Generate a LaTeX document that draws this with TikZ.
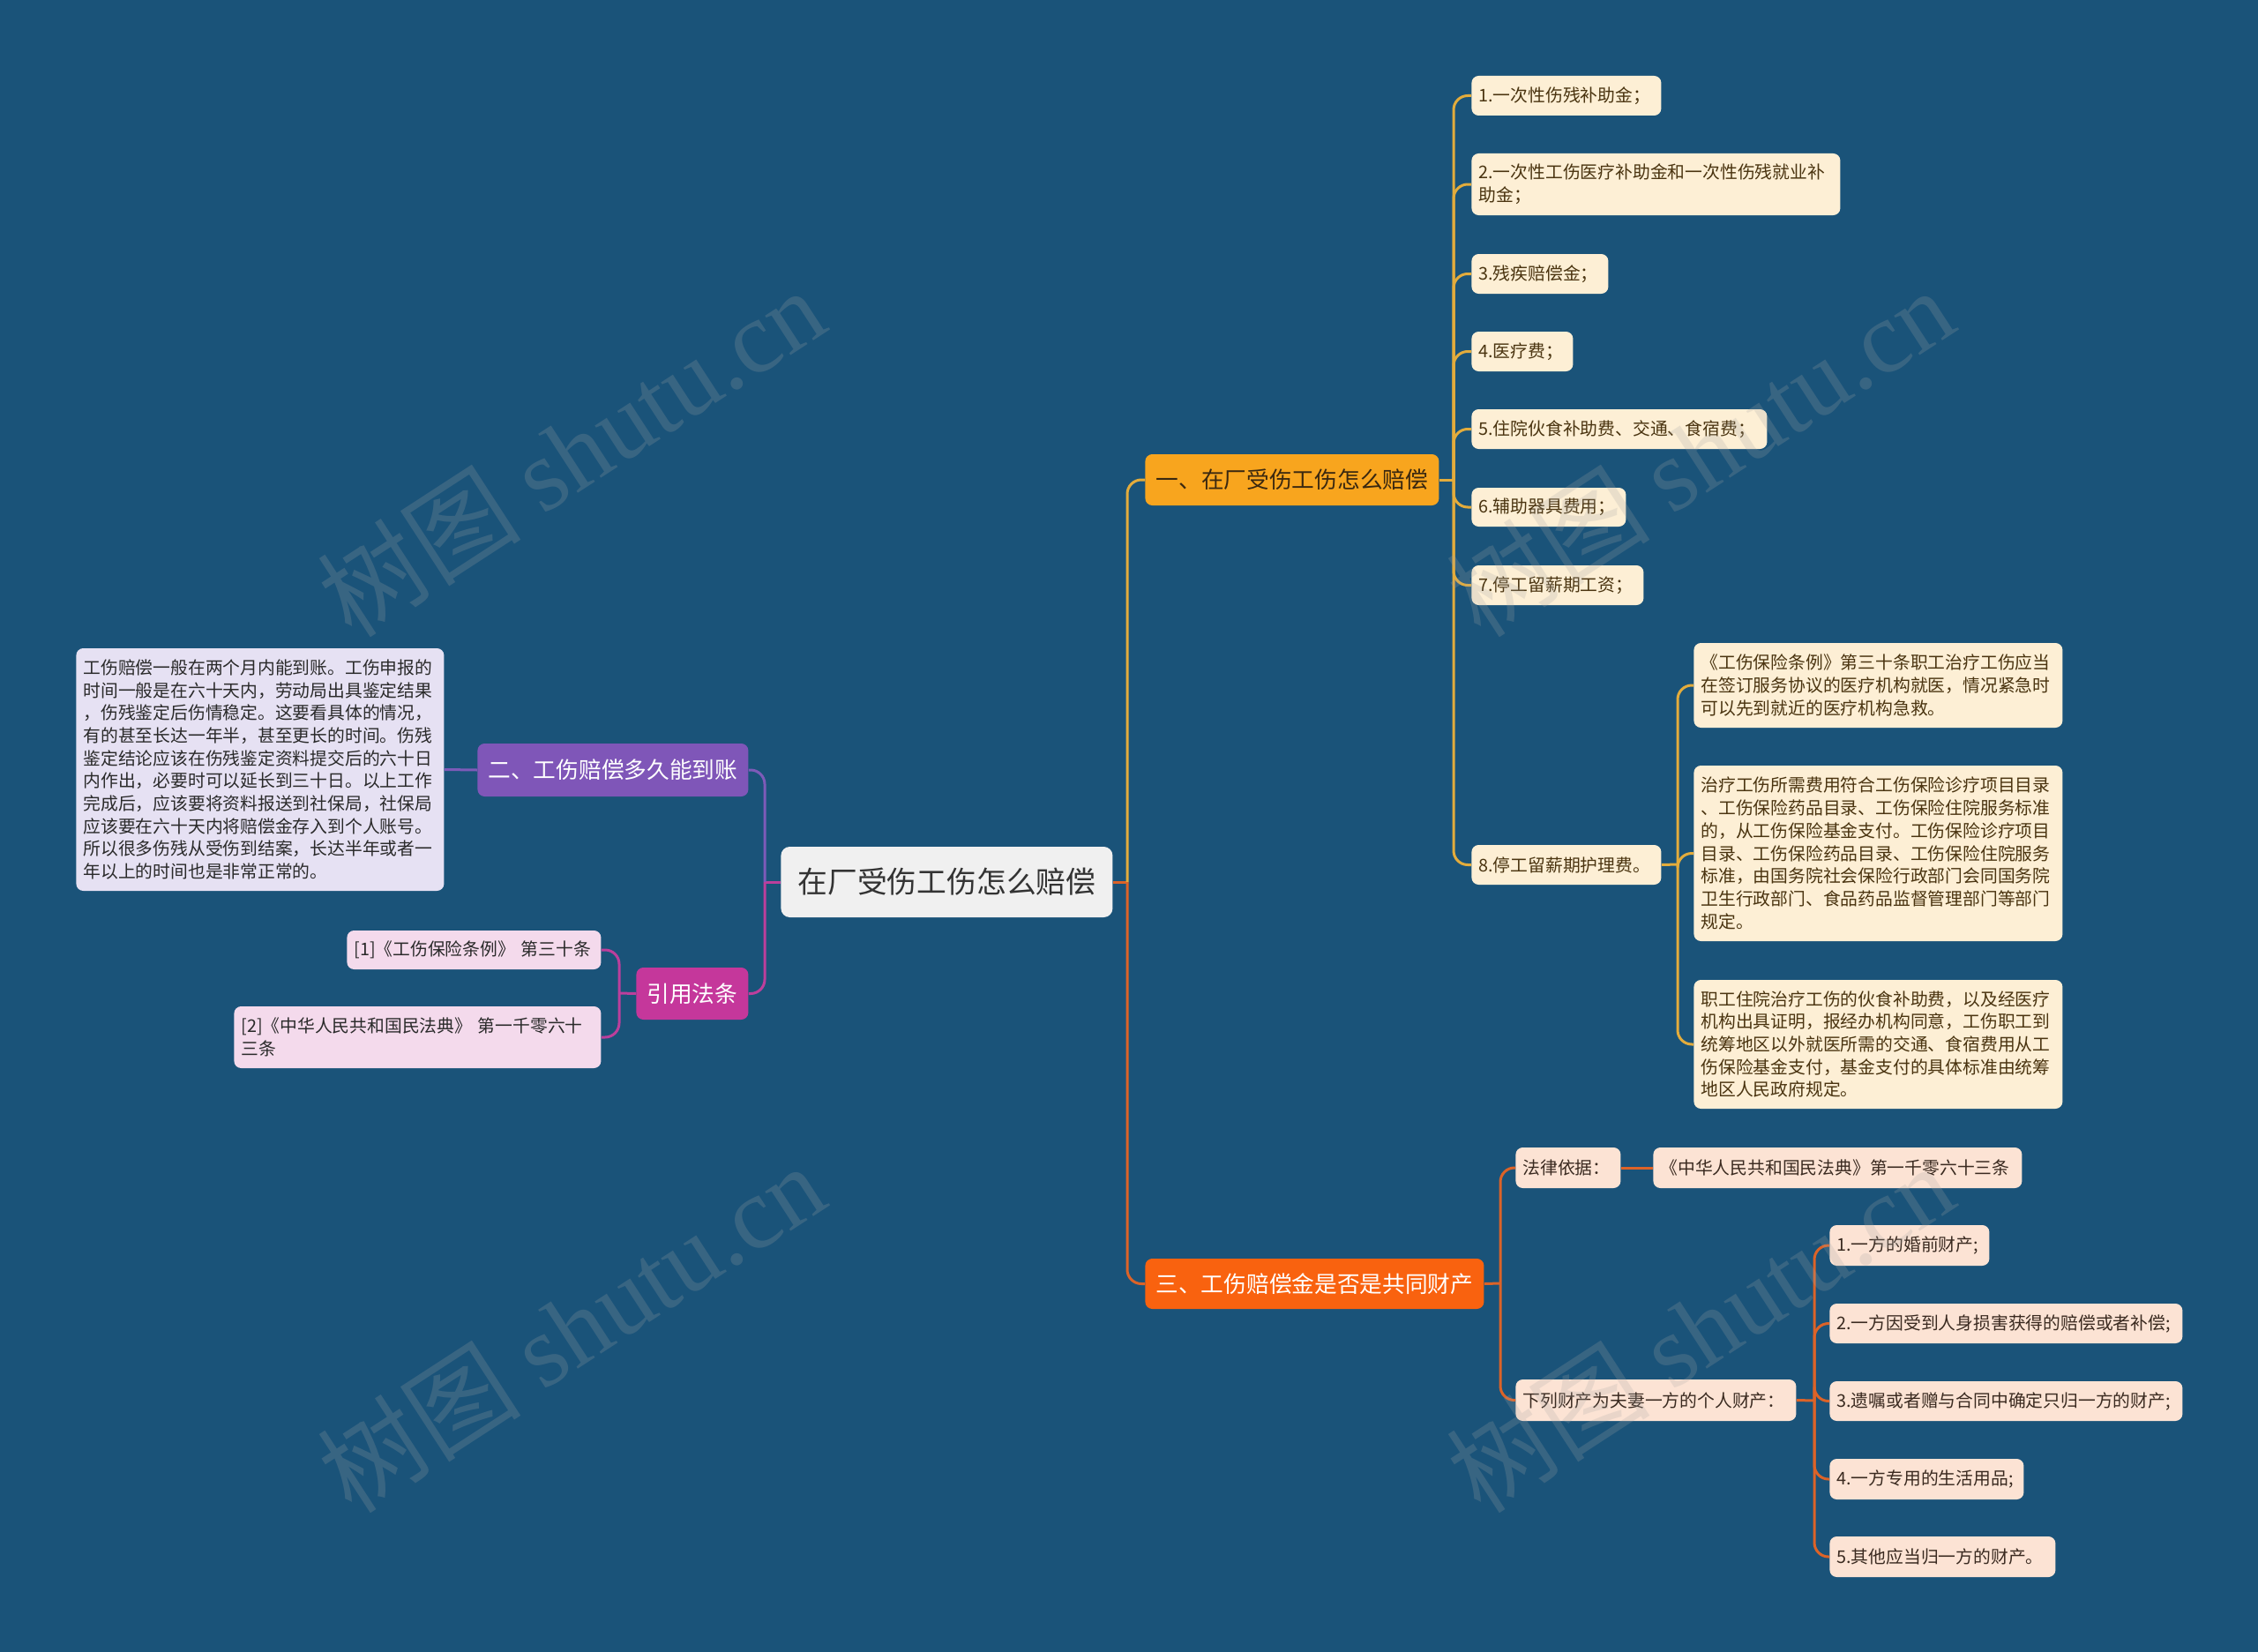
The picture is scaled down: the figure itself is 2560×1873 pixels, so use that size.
\documentclass[tikz,border=0pt]{standalone}
\usepackage{fontspec}
\setmainfont{Noto Sans CJK SC}
\newfontfamily\wmlatin{Liberation Serif}
\definecolor{bg}{HTML}{1A5379}
\definecolor{rootfill}{HTML}{F0F0F0}
\definecolor{roottext}{HTML}{333333}
\definecolor{aFill}{HTML}{F8A51E}
\definecolor{aText}{HTML}{3A2810}
\definecolor{aLine}{HTML}{E3AC3C}
\definecolor{aLeaf}{HTML}{FDEFD5}
\definecolor{aLeafText}{HTML}{4A3410}
\definecolor{cFill}{HTML}{F9620F}
\definecolor{cLine}{HTML}{DC6328}
\definecolor{cLeaf}{HTML}{FCE3D4}
\definecolor{cLeafText}{HTML}{3A2A20}
\definecolor{pFill}{HTML}{7F56B8}
\definecolor{pLine}{HTML}{7D5BB8}
\definecolor{pLeaf}{HTML}{E6E1F3}
\definecolor{mFill}{HTML}{C5379B}
\definecolor{mLine}{HTML}{BC3F9C}
\definecolor{mLeaf}{HTML}{F4DAEC}
\definecolor{darktext}{HTML}{2A2A2A}
\newcommand\placebox[7]{%
  \pgfmathsetmacro\pbw{(#5-#3)*0.5-8}%
  \pgfmathsetmacro\pbh{(#6-#4)*0.5}%
  \pgfmathsetmacro\pby{(#4+#6)/2}%
  \node[#1, anchor=west, inner xsep=4pt, inner ysep=0pt, text width=\pbw pt, minimum height=\pbh pt] (#2) at (#3,\pby) {#7};}
\tikzset{
  rootbox/.style={fill=rootfill, text=roottext, rounded corners=5pt, align=center, font=\fontsize{16.9}{20}\selectfont},
  abranch/.style={fill=aFill, text=aText, rounded corners=4pt, align=center, font=\fontsize{12.85}{16}\selectfont},
  cbranch/.style={fill=cFill, text=white, rounded corners=4pt, align=center, font=\fontsize{12.85}{16}\selectfont},
  pbranch/.style={fill=pFill, text=white, rounded corners=4pt, align=center, font=\fontsize{12.85}{16}\selectfont},
  mbranch/.style={fill=mFill, text=white, rounded corners=4pt, align=center, font=\fontsize{12.85}{16}\selectfont},
  aleaf/.style={fill=aLeaf, text=aLeafText, rounded corners=4pt, align=left, font=\fontsize{9.9}{12.85}\selectfont},
  cleaf/.style={fill=cLeaf, text=cLeafText, rounded corners=4pt, align=left, font=\fontsize{9.9}{12.85}\selectfont},
  pleaf/.style={fill=pLeaf, text=darktext, rounded corners=4pt, align=left, font=\fontsize{9.9}{12.85}\selectfont},
  mleaf/.style={fill=mLeaf, text=darktext, rounded corners=4pt, align=left, font=\fontsize{9.9}{12.85}\selectfont},
  conn/.style={line width=1.5pt, rounded corners=8pt},
  wmark/.style={text=gray!70!white, opacity=0.22, font=\fontsize{58}{60}\selectfont, rotate=33, inner sep=0pt},
}
\begin{document}
\begin{tikzpicture}[x=0.5pt,y=-0.5pt]
\fill[bg] (0,0) rectangle (2560,1873);
\useasboundingbox (0,0) rectangle (2560,1873);

% nodes
\placebox{rootbox}{root}{885}{960}{1261}{1040}{在厂受伤工伤怎么赔偿}
\placebox{abranch}{b1}{1298}{515}{1631}{573}{一、在厂受伤工伤怎么赔偿}
\placebox{pbranch}{b2}{541}{843}{848}{903}{二、工伤赔偿多久能到账}
\placebox{cbranch}{b3}{1298}{1427}{1682}{1484}{三、工伤赔偿金是否是共同财产}
\placebox{mbranch}{law}{721}{1097}{848}{1156}{引用法条}

\placebox{pleaf}{txt}{86}{735}{503}{1010}{工伤赔偿一般在两个月内能到账。工伤申报的\\时间一般是在六十天内，劳动局出具鉴定结果\\，伤残鉴定后伤情稳定。这要看具体的情况，\\有的甚至长达一年半，甚至更长的时间。伤残\\鉴定结论应该在伤残鉴定资料提交后的六十日\\内作出，必要时可以延长到三十日。以上工作\\完成后，应该要将资料报送到社保局，社保局\\应该要在六十天内将赔偿金存入到个人账号。\\所以很多伤残从受伤到结案，长达半年或者一\\年以上的时间也是非常正常的。}

\placebox{mleaf}{r1}{393}{1055}{681}{1099}{[1]《工伤保险条例》 第三十条}
\placebox{mleaf}{r2}{265}{1141}{681}{1211}{[2]《中华人民共和国民法典》 第一千零六十\\三条}

\placebox{aleaf}{l1}{1668}{86}{1883}{131}{1.一次性伤残补助金；}
\placebox{aleaf}{l2}{1668}{174}{2086}{244}{2.一次性工伤医疗补助金和一次性伤残就业补\\助金；}
\placebox{aleaf}{l3}{1668}{288}{1823}{333}{3.残疾赔偿金；}
\placebox{aleaf}{l4}{1668}{376}{1783}{421}{4.医疗费；}
\placebox{aleaf}{l5}{1668}{464}{2003}{509}{5.住院伙食补助费、交通、食宿费；}
\placebox{aleaf}{l6}{1668}{553}{1843}{597}{6.辅助器具费用；}
\placebox{aleaf}{l7}{1668}{641}{1863}{686}{7.停工留薪期工资；}
\placebox{aleaf}{l8}{1668}{958}{1883}{1003}{8.停工留薪期护理费。}
\placebox{aleaf}{l8a}{1920}{729}{2338}{825}{《工伤保险条例》第三十条职工治疗工伤应当\\在签订服务协议的医疗机构就医，情况紧急时\\可以先到就近的医疗机构急救。}
\placebox{aleaf}{l8b}{1920}{868}{2338}{1067}{治疗工伤所需费用符合工伤保险诊疗项目目录\\、工伤保险药品目录、工伤保险住院服务标准\\的，从工伤保险基金支付。工伤保险诊疗项目\\目录、工伤保险药品目录、工伤保险住院服务\\标准，由国务院社会保险行政部门会同国务院\\卫生行政部门、食品药品监督管理部门等部门\\规定。}
\placebox{aleaf}{l8c}{1920}{1111}{2338}{1257}{职工住院治疗工伤的伙食补助费，以及经医疗\\机构出具证明，报经办机构同意，工伤职工到\\统筹地区以外就医所需的交通、食宿费用从工\\伤保险基金支付，基金支付的具体标准由统筹\\地区人民政府规定。}

\placebox{cleaf}{basis}{1718}{1301}{1837}{1347}{法律依据：}
\placebox{cleaf}{civ}{1874}{1301}{2292}{1347}{《中华人民共和国民法典》第一千零六十三条}
\placebox{cleaf}{plist}{1718}{1564}{2036}{1611}{下列财产为夫妻一方的个人财产：}
\placebox{cleaf}{p1}{2074}{1389}{2255}{1435}{1.一方的婚前财产;}
\placebox{cleaf}{p2}{2074}{1478}{2474}{1523}{2.一方因受到人身损害获得的赔偿或者补偿;}
\placebox{cleaf}{p3}{2074}{1566}{2474}{1611}{3.遗嘱或者赠与合同中确定只归一方的财产;}
\placebox{cleaf}{p4}{2074}{1654}{2294}{1700}{4.一方专用的生活用品;}
\placebox{cleaf}{p5}{2074}{1742}{2330}{1788}{5.其他应当归一方的财产。}

% junctions
\coordinate (jR) at (1278,1000);
\coordinate (jL) at (867,1000);
\coordinate (j1) at (1648,544);
\coordinate (j8) at (1902,980);
\coordinate (j3) at (1701,1455);
\coordinate (jl) at (2057,1588);
\coordinate (jm) at (702,1126);

% connectors root
\draw[conn, draw=cLine] (root.east) -- (jR);
\draw[conn, draw=aLine] (jR) |- (b1.west);
\draw[conn, draw=cLine] (jR) |- (b3.west);
\draw[conn, draw=mLine] (root.west) -- (jL);
\draw[conn, draw=pLine] (jL) |- (b2.east);
\draw[conn, draw=mLine] (jL) |- (law.east);

% branch 1
\draw[conn, draw=aLine] (b1.east) -- (j1);
\foreach \n in {l1,l2,l3,l4,l5,l6,l7,l8}
  \draw[conn, draw=aLine] (j1) |- (\n.west);
\draw[conn, draw=aLine] (l8.east) -- (j8);
\foreach \n in {l8a,l8b,l8c}
  \draw[conn, draw=aLine] (j8) |- (\n.west);

% branch 2
\draw[conn, draw=pLine] (b2.west) -- (txt.east);

% law
\draw[conn, draw=mLine] (law.west) -- (jm);
\draw[conn, draw=mLine] (jm) |- (r1.east);
\draw[conn, draw=mLine] (jm) |- (r2.east);

% branch 3
\draw[conn, draw=cLine] (b3.east) -- (j3);
\draw[conn, draw=cLine] (j3) |- (basis.west);
\draw[conn, draw=cLine] (j3) |- (plist.west);
\draw[conn, draw=cLine] (basis.east) -- (civ.west);
\draw[conn, draw=cLine] (plist.east) -- (jl);
\foreach \n in {p1,p2,p3,p4,p5}
  \draw[conn, draw=cLine] (jl) |- (\n.west);

% watermarks
\node[wmark] (wm1) at (647,512) {树图 {\wmlatin shutu.cn}};
\node[wmark] (wm2) at (1927,512) {树图 {\wmlatin shutu.cn}};
\node[wmark] (wm3) at (647,1505) {树图 {\wmlatin shutu.cn}};
\node[wmark] (wm4) at (1927,1505) {树图 {\wmlatin shutu.cn}};
\end{tikzpicture}
\end{document}
